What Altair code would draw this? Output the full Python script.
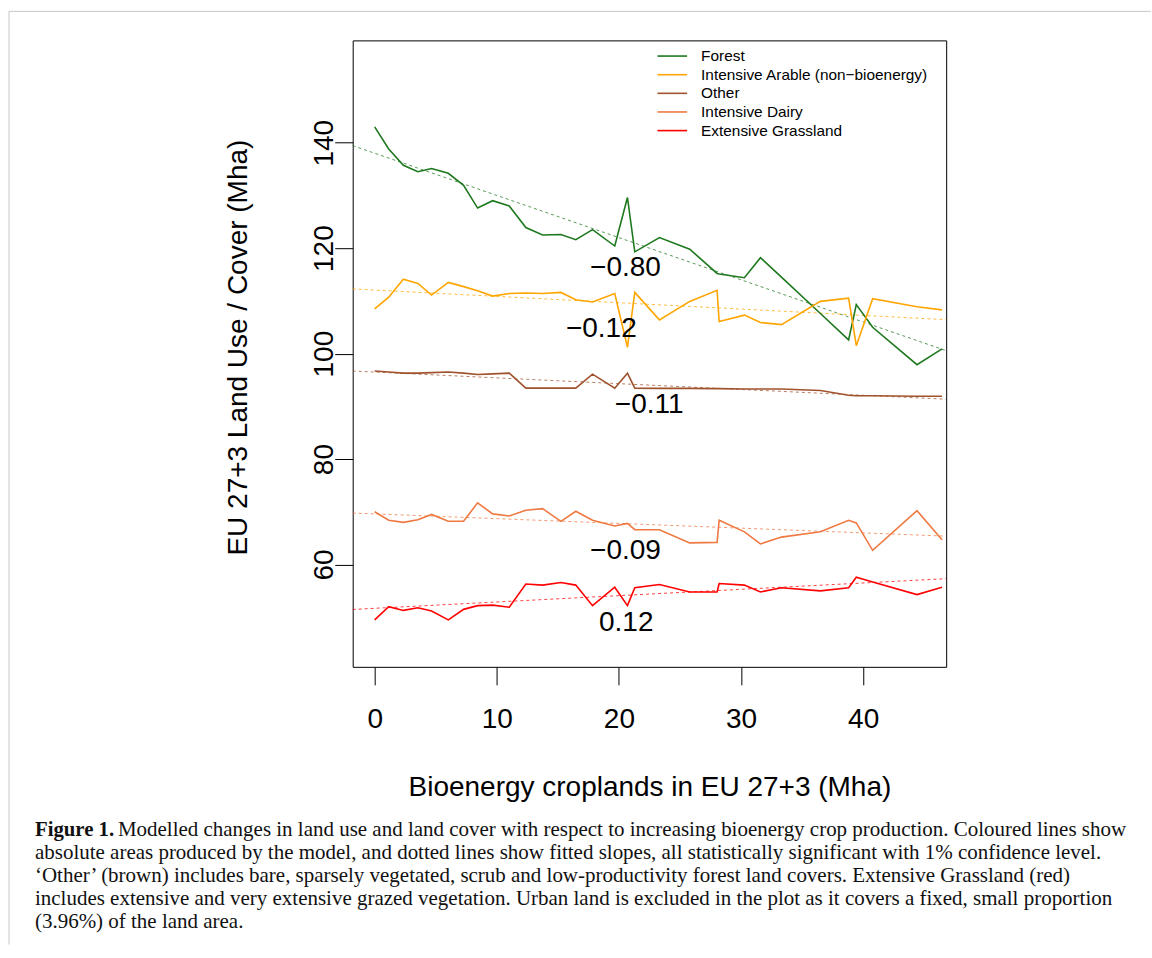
import altair as alt
import pandas as pd

# ---------------- data ----------------
x_vals = [0.0, 1.15, 2.35, 3.54, 4.66, 6.03, 7.28, 8.43, 9.66, 11.02, 12.38, 13.75, 15.25, 16.47,
          17.84, 19.66, 20.70, 21.30, 23.32, 25.80, 28.04, 28.21, 30.28, 31.59, 33.31, 36.50,
          38.81, 39.44, 40.78, 44.41, 46.46]
forest = [143.0, 138.8, 135.7, 134.5, 135.1, 134.2, 131.9, 127.6, 129.0, 128.0, 123.9, 122.5,
          122.6, 121.6, 123.5, 120.4, 129.6, 119.3, 122.0, 119.8, 115.2, 115.1, 114.4, 118.2,
          114.5, 107.6, 102.6, 109.3, 105.0, 97.9, 100.9]
arable = [108.5, 110.7, 114.1, 113.3, 111.1, 113.5, 112.7, 111.9, 110.9, 111.4, 111.5, 111.4,
          111.6, 110.2, 109.8, 111.4, 101.2, 111.6, 106.4, 109.9, 112.0, 106.1, 107.3, 105.9,
          105.5, 109.9, 110.5, 101.5, 110.4, 108.9, 108.3]
other = [96.7, 96.5, 96.3, 96.3, 96.4, 96.5, 96.3, 96.05, 96.15, 96.3, 93.45, 93.45, 93.45,
         93.45, 96.1, 93.45, 96.3, 93.45, 93.4, 93.4, 93.35, 93.35, 93.3, 93.3, 93.3, 93.0,
         92.1, 92.0, 92.0, 91.9, 91.9]
dairy = [70.0, 68.4, 68.0, 68.5, 69.5, 68.2, 68.2, 71.7, 69.6, 69.2, 70.3, 70.6, 68.2, 70.1,
         68.4, 67.3, 67.8, 66.6, 66.6, 64.1, 64.2, 68.4, 66.2, 63.9, 65.2, 66.2, 68.4, 67.9,
         62.7, 70.2, 64.7]
grassland = [49.5, 52.0, 51.3, 51.8, 51.2, 49.5, 51.5, 52.2, 52.3, 51.9, 56.3, 56.1, 56.6, 56.1,
             52.2, 55.7, 52.2, 55.6, 56.2, 54.8, 54.8, 56.4, 56.1, 54.8, 55.6, 55.0, 55.6, 57.6,
             56.7, 54.3, 55.7]

series_names = ["Forest", "Intensive Arable (non\u2212bioenergy)", "Other",
                "Intensive Dairy", "Extensive Grassland"]
series_values = [forest, arable, other, dairy, grassland]
series_colors = ["#1E781E", "#FFA500", "#A0522D", "#EE7942", "#FF0000"]

fit_intercepts = [138.0, 112.05, 96.5, 69.6, 51.7]
fit_slopes = [-0.80, -0.12, -0.11, -0.09, 0.12]

slope_labels = ["\u22120.80", "\u22120.12", "\u22120.11", "\u22120.09", "0.12"]
slope_label_x = [20.54, 18.56, 22.48, 20.54, 20.60]
slope_label_y = [116.3, 104.7, 90.25, 62.65, 48.95]

x_domain = [-1.8, 46.8]
y_domain = [40.6, 159.4]
x_ticks = [0, 10, 20, 30, 40]
y_ticks = [60, 80, 100, 120, 140]

x_title = "Bioenergy croplands in EU 27+3 (Mha)"
y_title = "EU 27+3 Land Use / Cover (Mha)"

caption_bold = "Figure 1."
caption_lines = [
    "Modelled changes in land use and land cover with respect to increasing bioenergy crop production. Coloured lines show",
    "absolute areas produced by the model, and dotted lines show fitted slopes, all statistically significant with 1% confidence level.",
    "\u2018Other\u2019 (brown) includes bare, sparsely vegetated, scrub and low-productivity forest land covers. Extensive Grassland (red)",
    "includes extensive and very extensive grazed vegetation. Urban land is excluded in the plot as it covers a fixed, small proportion",
    "(3.96%) of the land area.",
]

SANS = "Liberation Sans"
SERIF = "Liberation Serif"

# ---------------- tables ----------------
rows = []
for name, vals in zip(series_names, series_values):
    for xv, yv in zip(x_vals, vals):
        rows.append({"series": name, "x": xv, "y": yv})
lines_df = pd.DataFrame(rows)

fit_rows = []
for name, a, b in zip(series_names, fit_intercepts, fit_slopes):
    for xv in x_domain:
        fit_rows.append({"series": name, "x": xv, "y": a + b * xv})
fit_df = pd.DataFrame(fit_rows)

lab_df = pd.DataFrame({"x": slope_label_x, "y": slope_label_y, "label": slope_labels})

color_scale = alt.Scale(domain=series_names, range=series_colors)
x_scale = alt.Scale(domain=x_domain, nice=False, zero=False)
y_scale = alt.Scale(domain=y_domain, nice=False, zero=False)

x_enc = alt.X(
    "x:Q", scale=x_scale,
    axis=alt.Axis(values=x_ticks, title=x_title, domain=False, grid=False,
                  tickSize=18, tickColor="black", tickWidth=1,
                  labelFont=SANS, labelFontSize=28, labelColor="black",
                  labelPadding=21, labelBaseline="top", labelFlush=False,
                  titleFont=SANS, titleFontSize=28, titleFontWeight="normal",
                  titleColor="black", titleX=297, titleY=120.6,
                  titleBaseline="middle", titleAlign="center"),
)
y_enc = alt.Y(
    "y:Q", scale=y_scale,
    axis=alt.Axis(values=y_ticks, title=y_title, domain=False, grid=False,
                  tickSize=18, tickColor="black", tickWidth=1,
                  labelFont=SANS, labelFontSize=28, labelColor="black",
                  labelAngle=270, labelAlign="center", labelBaseline="alphabetic",
                  labelPadding=2, labelFlush=False,
                  titleFont=SANS, titleFontSize=28, titleFontWeight="normal",
                  titleColor="black", titleAngle=270, titleX=-114.5, titleY=307,
                  titleBaseline="middle", titleAlign="center"),
)

lines = alt.Chart(lines_df).mark_line(strokeWidth=1.6).encode(
    x=x_enc, y=y_enc,
    color=alt.Color("series:N", scale=color_scale, legend=None),
    detail="series:N",
)

fits = alt.Chart(fit_df).mark_line(strokeWidth=1, strokeDash=[3, 3], opacity=0.75).encode(
    x="x:Q", y="y:Q",
    color=alt.Color("series:N", scale=color_scale, legend=None),
    detail="series:N",
)

labels = alt.Chart(lab_df).mark_text(font=SANS, fontSize=28, color="black",
                                     baseline="middle", align="center").encode(
    x="x:Q", y="y:Q", text="label:N"
)

layers = [fits, lines, labels]

# manual legend (R style, no box)
one = pd.DataFrame({"k": [0]})
for i, (name, col) in enumerate(zip(series_names, series_colors)):
    ry = 15.7 + 18.65 * i
    layers.append(
        alt.Chart(one).mark_rule(strokeWidth=1.6, color=col).encode(
            x=alt.value(305), x2=alt.value(334.7), y=alt.value(ry)
        )
    )
    layers.append(
        alt.Chart(pd.DataFrame({"t": [name]})).mark_text(
            font=SANS, fontSize=15.4, color="black", align="left", baseline="middle"
        ).encode(x=alt.value(348.7), y=alt.value(ry), text="t:N")
    )

# page frame lines
layers.append(alt.Chart(one).mark_rule(color="#c8c8c8", strokeWidth=1).encode(
    x=alt.value(-344), x2=alt.value(799), y=alt.value(-29)))
layers.append(alt.Chart(one).mark_rule(color="#c8c8c8", strokeWidth=1).encode(
    x=alt.value(-344), y=alt.value(-29), y2=alt.value(905)))

# caption
cap_y0 = 790
layers.append(alt.Chart(pd.DataFrame({"t": [caption_bold]})).mark_text(
    font=SERIF, fontSize=20.8, fontWeight="bold", color="#111", align="left", baseline="middle"
).encode(x=alt.value(-318), y=alt.value(cap_y0), text="t:N"))
for i, line in enumerate(caption_lines):
    xpos = -235 if i == 0 else -318
    layers.append(alt.Chart(pd.DataFrame({"t": [line]})).mark_text(
        font=SERIF, fontSize=21, color="#111", align="left", baseline="middle"
    ).encode(x=alt.value(xpos), y=alt.value(cap_y0 + 23 * i), text="t:N"))

chart = alt.layer(*layers).properties(
    width=594, height=627,
    padding={"left": 8, "top": 10, "right": 0, "bottom": 0},
    background="white",
).configure_view(stroke="black", strokeWidth=1)

chart.save("out.html", embed_options={"renderer": "svg", "actions": False})
